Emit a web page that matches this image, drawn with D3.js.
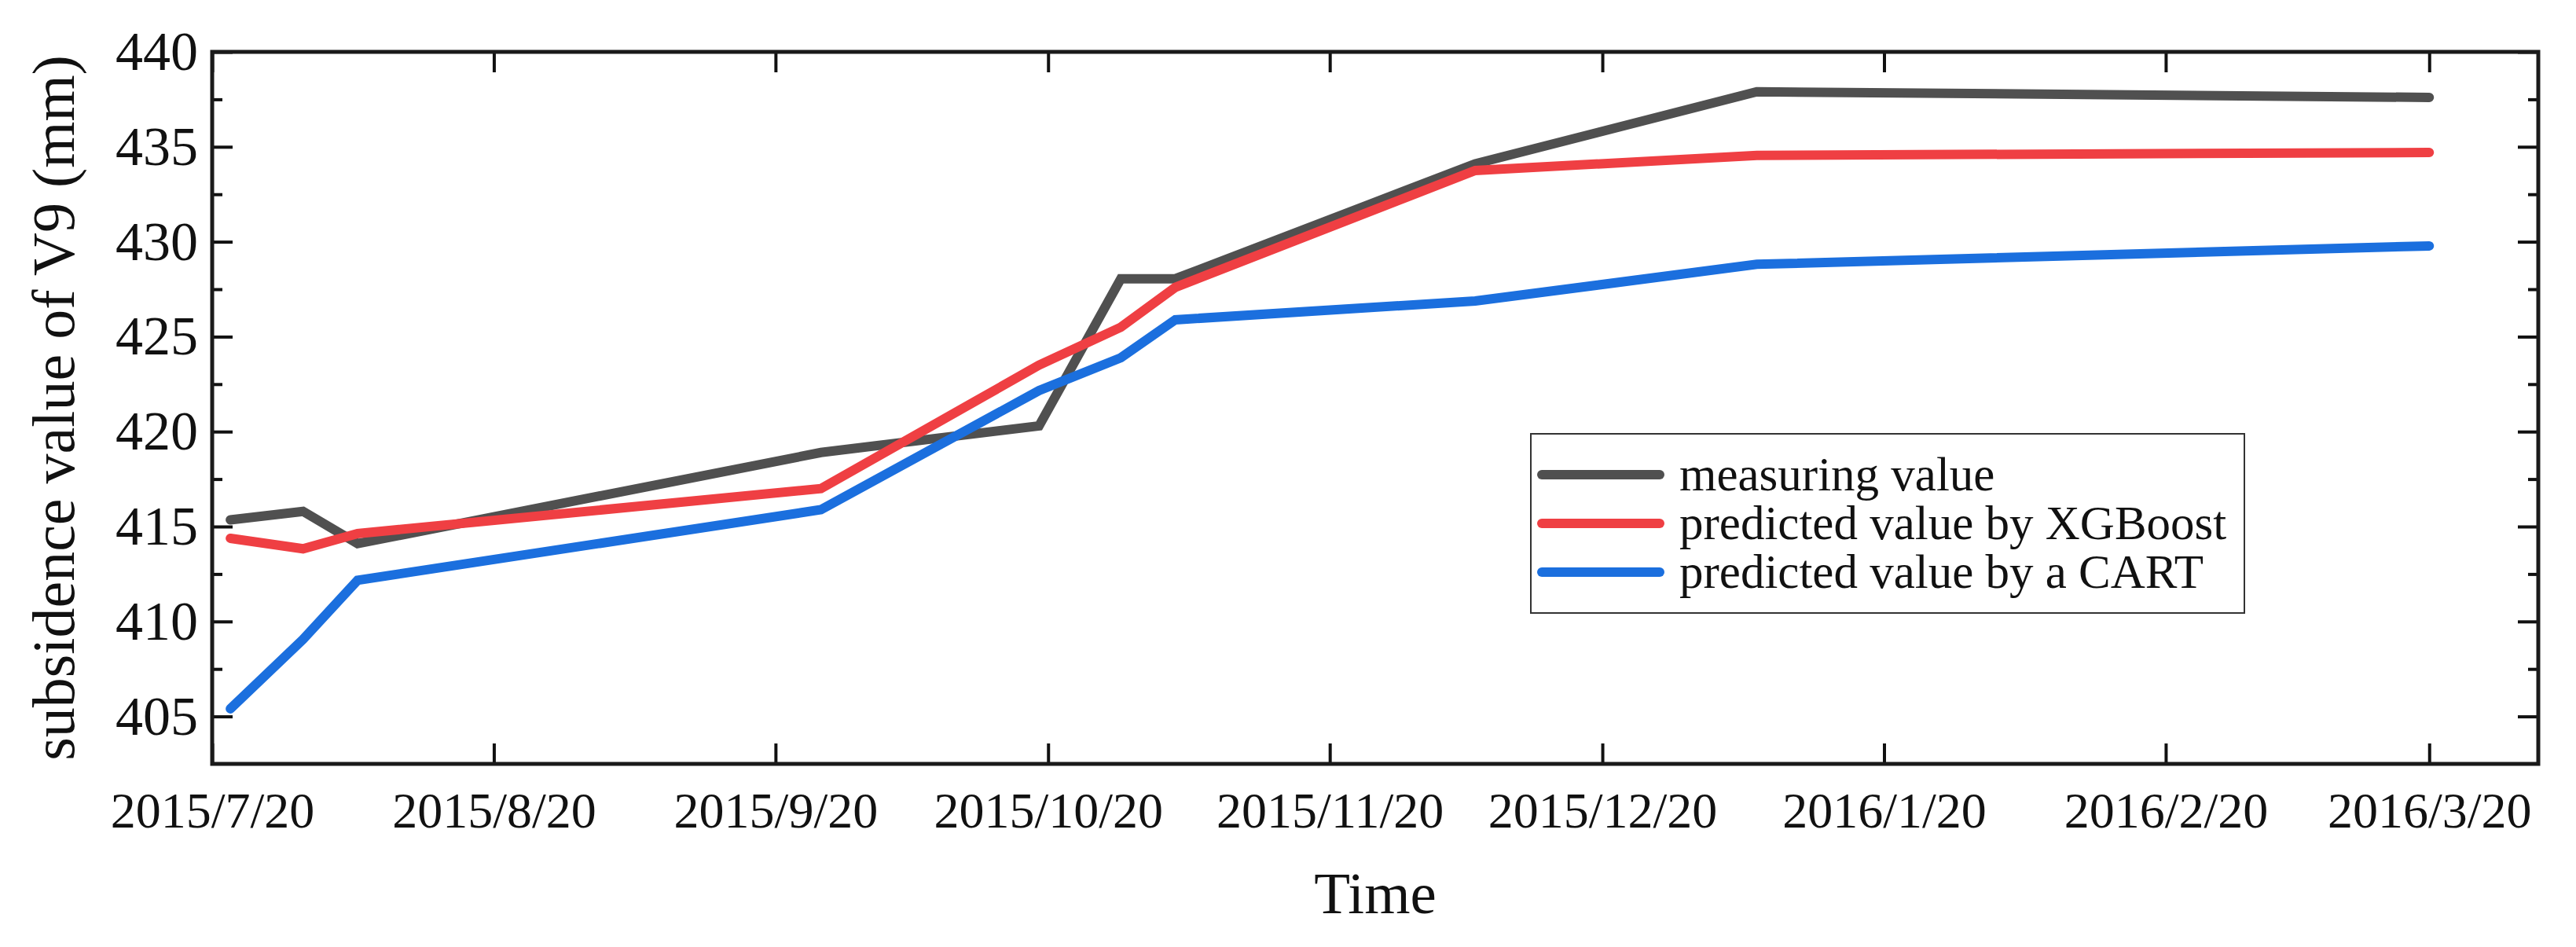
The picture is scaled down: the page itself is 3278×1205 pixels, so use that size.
<!DOCTYPE html>
<html>
<head>
<meta charset="utf-8">
<script src="https://cdn.jsdelivr.net/npm/d3@7/dist/d3.min.js"></script>
<style>
  html, body { margin: 0; padding: 0; background: #fff; }
  svg { display: block; }
</style>
</head>
<body>
<svg id="chart" width="3278" height="1205"></svg>
<script>
// ---- data ----
const dates = ["2015-07-22","2015-07-30","2015-08-05","2015-09-25","2015-10-19","2015-10-28","2015-11-03","2015-12-06","2016-01-06","2016-03-20"];
const measured = [415.35, 415.8, 414.1, 418.9, 420.3, 428.05, 428.05, 434.1, 437.9, 437.6];
const xgboost  = [414.38, 413.83, 414.63, 417.0, 423.5, 425.5, 427.6, 433.75, 434.55, 434.7];
const cart     = [405.4, 409.06, 412.17, 415.89, 422.16, 423.89, 425.89, 426.88, 428.81, 429.78];
const seriesNames = ["measuring value", "predicted value by XGBoost", "predicted value by a CART"];
const seriesColors = ["#505050", "#EF3F43", "#1B6FDE"];
const xTickDates = ["2015-07-20","2015-08-20","2015-09-20","2015-10-20","2015-11-20","2015-12-20","2016-01-20","2016-02-20","2016-03-20"];
const xTickLabels = ["2015/7/20","2015/8/20","2015/9/20","2015/10/20","2015/11/20","2015/12/20","2016/1/20","2016/2/20","2016/3/20"];
const yMajorTicks = [405, 410, 415, 420, 425, 430, 435, 440];
const yMinorTicks = [407.5, 412.5, 417.5, 422.5, 427.5, 432.5, 437.5];
const xDomain = ["2015-07-20", "2016-04-01"];
const yDomain = [402.5, 440];

// ---- layout ----
const L = 270, R = 3230, T = 66, B = 972;
const parse = d3.timeParse("%Y-%m-%d");
const svg = d3.select("#chart");
const serif = "'Liberation Serif', 'DejaVu Serif', serif";

const x = d3.scaleTime().domain(xDomain.map(parse)).range([L, R]);
const y = d3.scaleLinear().domain(yDomain).range([B, T]);

const tickW = 4, axisW = 5;

function styleAxis(g) {
  g.select(".domain").remove();
  g.selectAll(".tick line").attr("stroke", "#111").attr("stroke-width", tickW);
}

// bottom axis
const xTickVals = xTickDates.map(parse);
svg.append("g").attr("transform", `translate(0,${B})`)
  .call(d3.axisBottom(x).tickValues(xTickVals).tickSizeInner(-26).tickSizeOuter(0).tickPadding(36)
    .tickFormat((d, i) => xTickLabels[i]))
  .call(styleAxis)
  .call(g => g.selectAll("text").attr("font-family", serif).attr("font-size", 64).attr("fill", "#111"));

// top axis (ticks only)
svg.append("g").attr("transform", `translate(0,${T})`)
  .call(d3.axisTop(x).tickValues(xTickVals).tickSizeInner(-26).tickSizeOuter(0).tickFormat(""))
  .call(styleAxis);

// left axis
svg.append("g").attr("transform", `translate(${L},0)`)
  .call(d3.axisLeft(y).tickValues(yMajorTicks).tickSizeInner(-26).tickSizeOuter(0).tickPadding(18)
    .tickFormat(d3.format("d")))
  .call(styleAxis)
  .call(g => g.selectAll("text").attr("font-family", serif).attr("font-size", 70).attr("fill", "#111"));
svg.append("g").attr("transform", `translate(${L},0)`)
  .call(d3.axisLeft(y).tickValues(yMinorTicks).tickSizeInner(-13).tickSizeOuter(0).tickFormat(""))
  .call(styleAxis);

// right axis (ticks only)
svg.append("g").attr("transform", `translate(${R},0)`)
  .call(d3.axisRight(y).tickValues(yMajorTicks).tickSizeInner(-26).tickSizeOuter(0).tickFormat(""))
  .call(styleAxis);
svg.append("g").attr("transform", `translate(${R},0)`)
  .call(d3.axisRight(y).tickValues(yMinorTicks).tickSizeInner(-13).tickSizeOuter(0).tickFormat(""))
  .call(styleAxis);

// frame
svg.append("rect").attr("x", L).attr("y", T).attr("width", R - L).attr("height", B - T)
  .attr("fill", "none").attr("stroke", "#1a1a1a").attr("stroke-width", axisW);

// lines
const allSeries = [measured, xgboost, cart];
const line = d3.line().x(d => x(d.date)).y(d => y(d.value));
allSeries.forEach((vals, si) => {
  const pts = vals.map((v, i) => ({ date: parse(dates[i]), value: v }));
  svg.append("path").datum(pts)
    .attr("d", line)
    .attr("fill", "none")
    .attr("stroke", seriesColors[si])
    .attr("stroke-width", 12)
    .attr("stroke-linejoin", "miter")
    .attr("stroke-linecap", "round");
});

// legend
const lg = svg.append("g");
lg.append("rect").attr("x", 1948).attr("y", 552).attr("width", 908).attr("height", 228)
  .attr("fill", "#fff").attr("stroke", "#333").attr("stroke-width", 2);
seriesNames.forEach((name, i) => {
  const cy = 604 + i * 62;
  lg.append("line").attr("x1", 1962).attr("x2", 2112).attr("y1", cy).attr("y2", cy)
    .attr("stroke", seriesColors[i]).attr("stroke-width", 12).attr("stroke-linecap", "round");
  lg.append("text").attr("x", 2137).attr("y", cy).attr("dy", "0.33em")
    .attr("font-family", serif).attr("font-size", 61).attr("fill", "#111").text(name);
});

// axis titles
svg.append("text").attr("x", (L + R) / 2).attr("y", 1162).attr("text-anchor", "middle")
  .attr("font-family", serif).attr("font-size", 75).attr("fill", "#111").text("Time");
svg.append("text").attr("transform", `translate(94,${(T + B) / 2}) rotate(-90)`)
  .attr("text-anchor", "middle")
  .attr("font-family", serif).attr("font-size", 76).attr("fill", "#111").text("subsidence value of V9 (mm)");
</script>
</body>
</html>
